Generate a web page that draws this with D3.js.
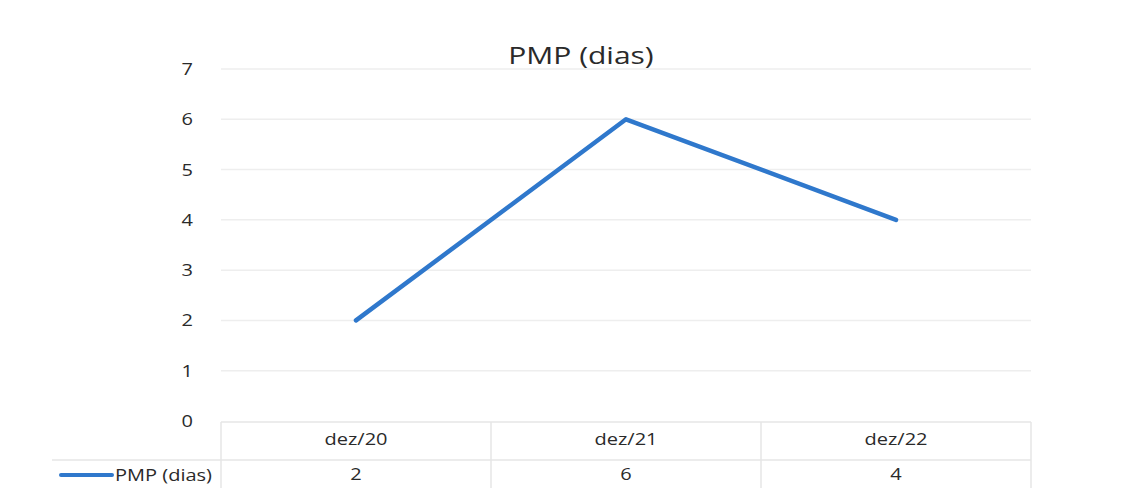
<!DOCTYPE html>
<html lang="pt">
<head>
<meta charset="UTF-8">
<title>PMP (dias)</title>
<script src="https://d3js.org/d3.v7.min.js"></script>
<style>
  body { margin: 0; background: #fff; }
  svg { display: block; font-family: "Open Sans", "Noto Sans", sans-serif; }
</style>
</head>
<body>
<svg width="1136" height="488"></svg>
<script>
// data
let categories = ["dez/20", "dez/21", "dez/22"];
let seriesName = "PMP (dias)";
let values = [2, 6, 4];
let yTicks = [0, 1, 2, 3, 4, 5, 6, 7];

let svg = d3.select("svg");
let plot = {left: 221, right: 1031, top: 69, bottom: 421};
let lineColor = "#2f78cc";
let stretch = 1.25; // the scan is a bit wider than tall

let xscale = d3.scaleBand().domain(categories).range([plot.left, plot.right]);
let yscale = d3.scaleLinear().domain([0, 7]).range([plot.bottom, plot.top]);

// text helper, stretched horizontally like the original
function label(g, x, y, txt, size, anchor) {
  return g.append("text")
    .attr("transform", "translate(" + x + "," + y + ") scale(" + stretch + ",1)")
    .attr("text-anchor", anchor || "middle")
    .style("font-size", size + "px").style("fill", "#2a2a2a")
    .text(txt);
}

// title
label(svg, 581, 64, "PMP (dias)", 24);

// gridlines
svg.append("g").selectAll("line").data(yTicks.slice(1)).enter().append("line")
  .attr("x1", plot.left).attr("x2", plot.right)
  .attr("y1", d => yscale(d)).attr("y2", d => yscale(d))
  .style("stroke", "#eeeeee").style("stroke-width", 1.5);

// y axis labels
let yg = svg.append("g");
yTicks.forEach(t => label(yg, 193, yscale(t) + 6, d3.format("d")(t), 16, "end"));

// data table
let rowTop = plot.bottom + 1, rowMid = 460, rowBot = 488;
let table = svg.append("g").style("stroke", "#e6e6e6").style("stroke-width", 1.5);
table.append("line").attr("x1", plot.left).attr("x2", plot.right)
  .attr("y1", rowTop).attr("y2", rowTop);
table.append("line").attr("x1", 52).attr("x2", plot.right)
  .attr("y1", rowMid).attr("y2", rowMid);
let bounds = [plot.left].concat(categories.map(c => xscale(c) + xscale.bandwidth()));
table.selectAll(".v").data(bounds).enter().append("line")
  .attr("x1", d => d).attr("x2", d => d)
  .attr("y1", rowTop).attr("y2", rowBot);

let cg = svg.append("g");
categories.forEach(c => label(cg, xscale(c) + xscale.bandwidth() / 2, 445, c, 16));
let vg = svg.append("g");
values.forEach((v, i) => label(vg, xscale(categories[i]) + xscale.bandwidth() / 2, 480, v, 16));

// legend key
svg.append("line").attr("x1", 61).attr("x2", 112).attr("y1", 475).attr("y2", 475)
  .style("stroke", lineColor).style("stroke-width", 4).style("stroke-linecap", "round");
label(svg, 115, 481, seriesName, 16, "start");

// line
let line = d3.line()
  .x((d, i) => xscale(categories[i]) + xscale.bandwidth() / 2)
  .y(d => yscale(d));
svg.append("path").datum(values)
  .attr("d", line)
  .style("fill", "none").style("stroke", lineColor)
  .style("stroke-width", 4.5).style("stroke-linecap", "round").style("stroke-linejoin", "round");
</script>
</body>
</html>
